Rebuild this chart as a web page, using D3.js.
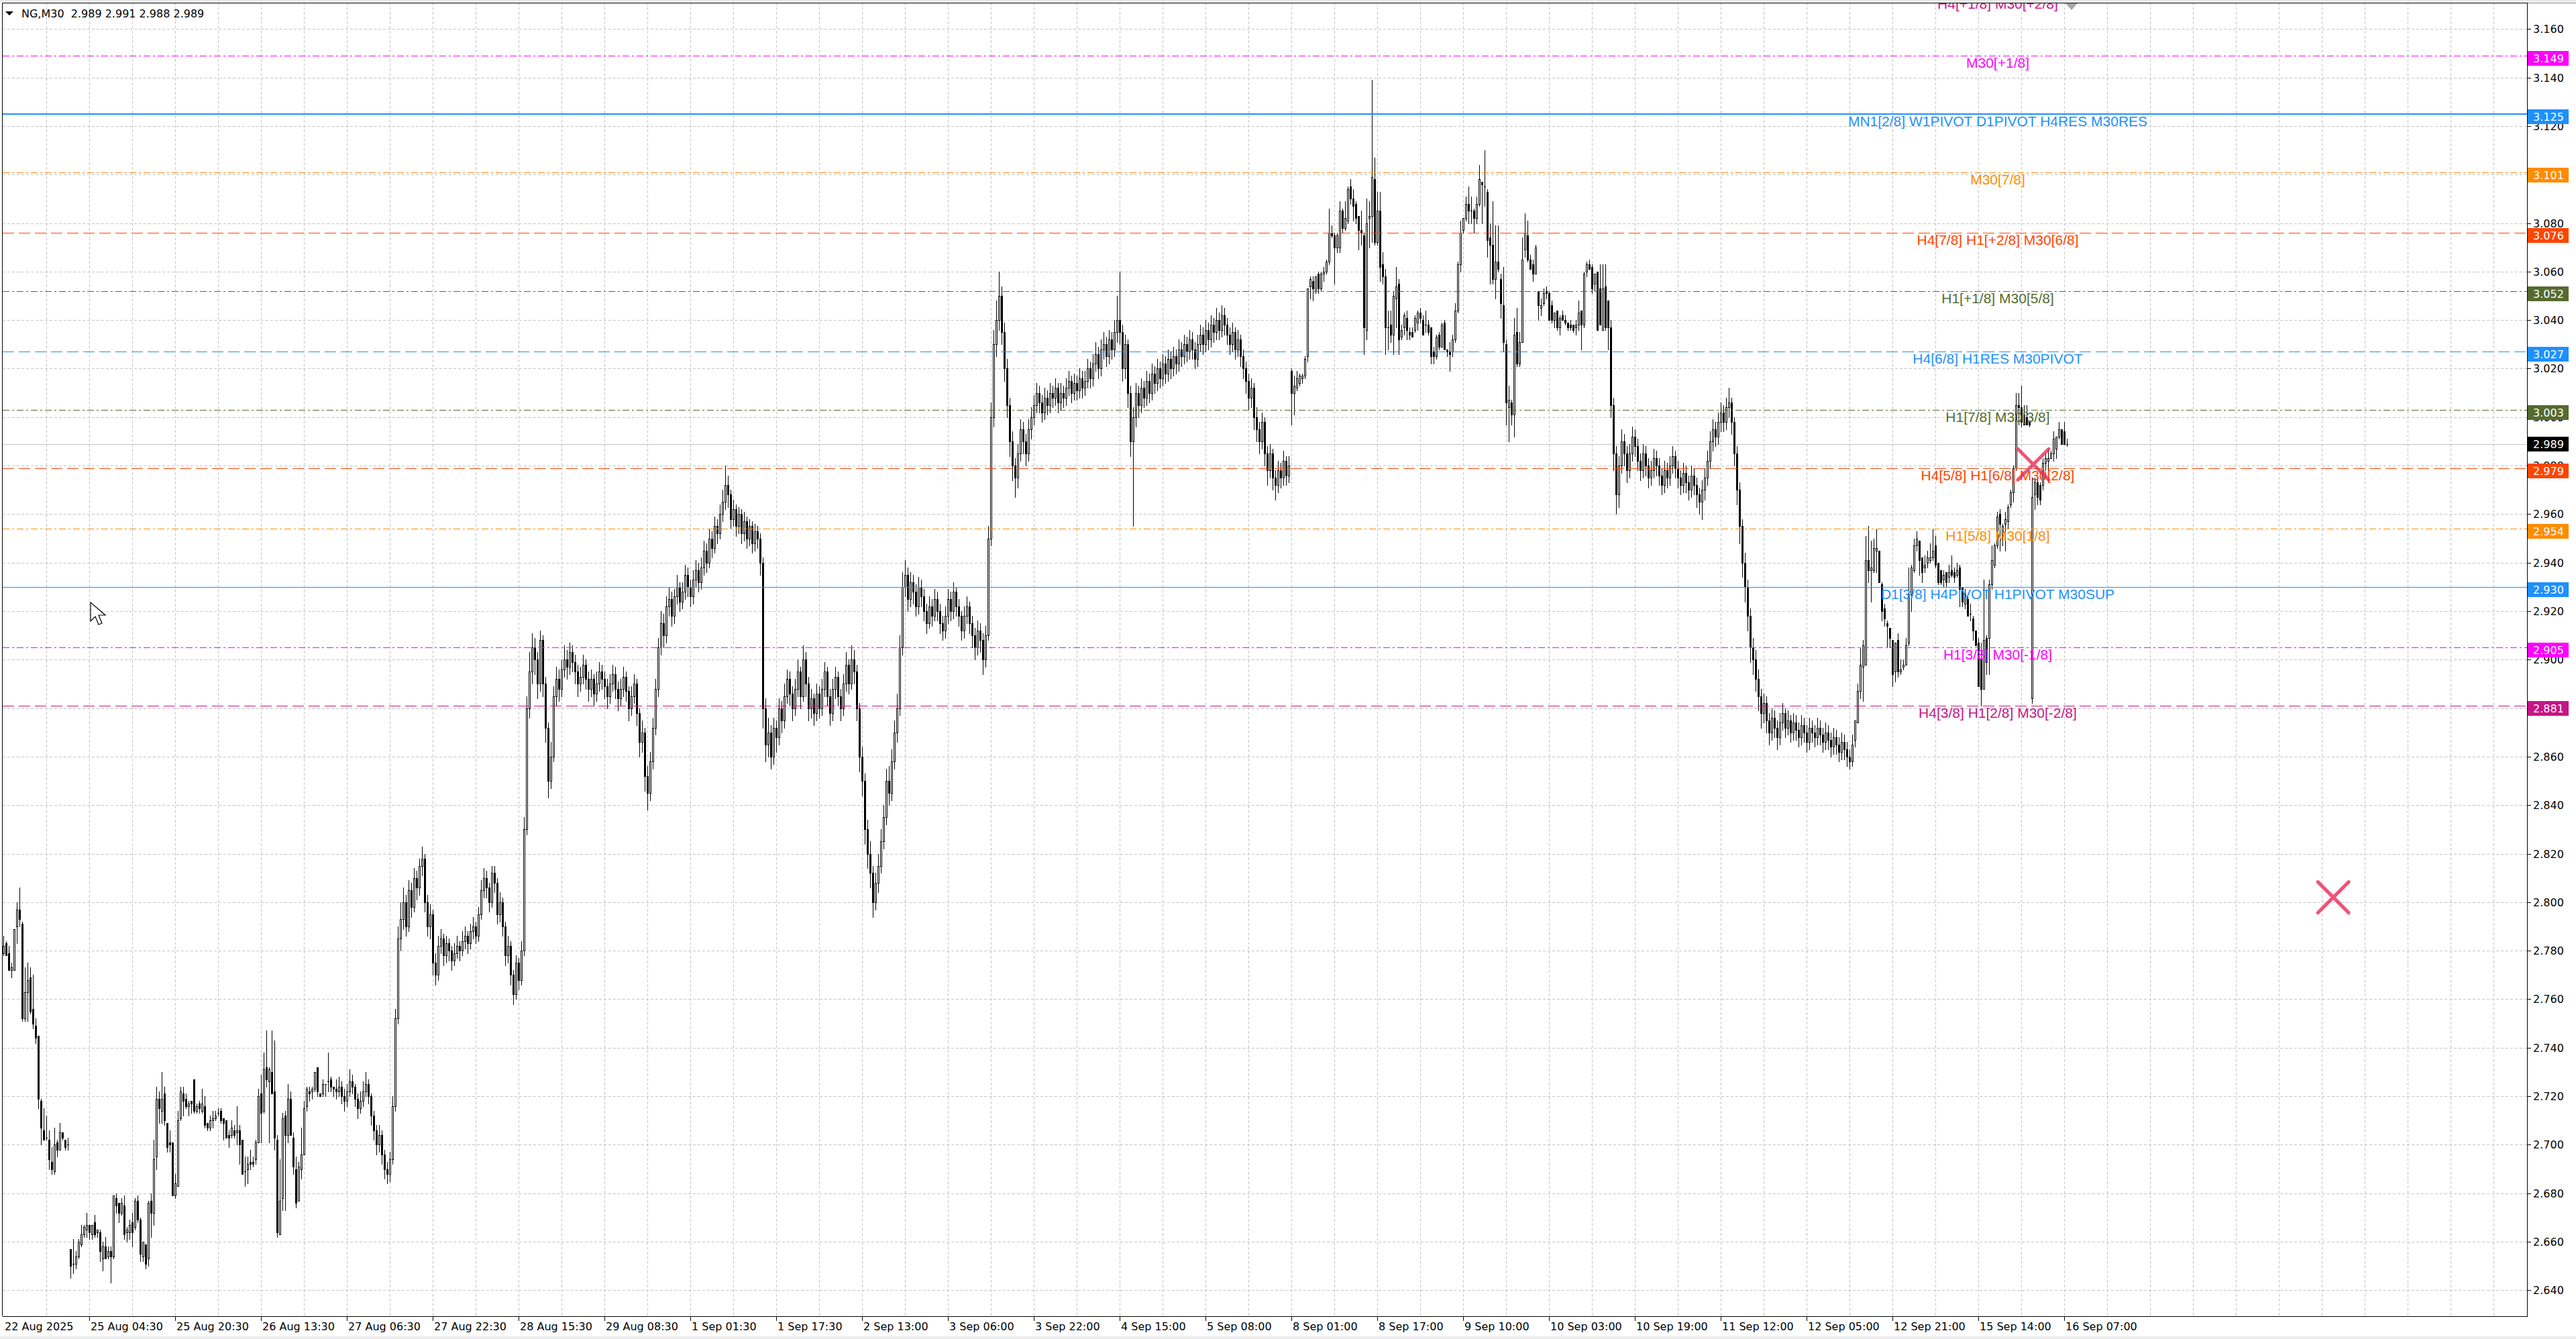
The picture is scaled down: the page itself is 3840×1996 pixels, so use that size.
<!DOCTYPE html>
<html><head><meta charset="utf-8">
<script src="https://cdn.jsdelivr.net/npm/d3@7"></script>
<style>html,body{margin:0;padding:0;background:#fff;overflow:hidden}</style>
</head><body>
<svg id="c" width="3840" height="1996"></svg>
<script>
// ---------------- DATA ----------------
const chartTitle = "NG,M30  2.989 2.991 2.988 2.989";
const timeLabels = ["22 Aug 2025","25 Aug 04:30","25 Aug 20:30","26 Aug 13:30","27 Aug 06:30","27 Aug 22:30","28 Aug 15:30","29 Aug 08:30","1 Sep 01:30","1 Sep 17:30","2 Sep 13:00","3 Sep 06:00","3 Sep 22:00","4 Sep 15:00","5 Sep 08:00","8 Sep 01:00","8 Sep 17:00","9 Sep 10:00","10 Sep 03:00","10 Sep 19:00","11 Sep 12:00","12 Sep 05:00","12 Sep 21:00","15 Sep 14:00","16 Sep 07:00"];
const timeLabelBars = [0,32,64,96,128,160,192,224,256,288,320,352,384,416,448,480,512,544,576,608,640,672,704,736,768];
const priceTicks = [2.64,2.66,2.68,2.70,2.72,2.74,2.76,2.78,2.80,2.82,2.84,2.86,2.88,2.90,2.92,2.94,2.96,2.98,3.00,3.02,3.04,3.06,3.08,3.10,3.12,3.14,3.16];
const levelPrices = [3.1735,3.149,3.125,3.101,3.076,3.052,3.027,3.003,2.979,2.954,2.930,2.905,2.881];
const levelNames = ["H4[+1/8] M30[+2/8]","M30[+1/8]","MN1[2/8] W1PIVOT D1PIVOT H4RES M30RES","M30[7/8]","H4[7/8] H1[+2/8] M30[6/8]","H1[+1/8] M30[5/8]","H4[6/8] H1RES M30PIVOT","H1[7/8] M30[3/8]","H4[5/8] H1[6/8] M30[2/8]","H1[5/8] M30[1/8]","D1[3/8] H4PIVOT H1PIVOT M30SUP","H1[3/8] M30[-1/8]","H4[3/8] H1[2/8] M30[-2/8]"];
const currentPrice = 2.989;
const markerPoints = [[756.5, 2.9805],[868.3, 2.802]]; // [bar, price]

// candles, price x1000, rows [open, high, low, close]
// bars 0-123 (22-26 Aug)
const seg1 = [[2779,2786,2778,2782],[2783,2784,2778,2778],[2779,2782,2772,2772],[2772,2775,2769,2773],[2772,2789,2772,2789],[2790,2800,2783,2797],[2797,2806,2790,2793],[2791,2792,2751,2752],[2752,2773,2751,2763],[2763,2775,2751,2768],
[2769,2773,2754,2755],[2756,2770,2748,2750],[2749,2752,2742,2744],[2745,2745,2715,2719],[2718,2719,2700,2707],[2706,2715,2702,2702],[2703,2712,2702,2703],[2702,2706,2690,2694],[2693,2699,2688,2690],[2689,2707,2688,2700],
[2701,2702,2695,2698],[2698,2709,2698,2705],[2705,2705,2702,2703],[2702,2702,2698,2699],[2700,2703,2698,2700],[2657,2657,2645,2650],[2651,2661,2647,2651],[2651,2656,2649,2654],[2654,2661,2653,2660],[2659,2667,2658,2663],
[2663,2667,2662,2666],[2665,2672,2662,2667],[2667,2667,2661,2664],[2663,2667,2661,2667],[2668,2671,2662,2663],[2664,2665,2662,2665],[2664,2665,2652,2656],[2653,2660,2648,2658],[2658,2662,2653,2653],[2654,2658,2653,2656],
[2656,2658,2643,2654],[2654,2679,2653,2679],[2678,2680,2672,2675],[2676,2676,2668,2672],[2672,2678,2671,2676],[2675,2679,2661,2663],[2664,2666,2660,2665],[2664,2669,2661,2667],[2668,2672,2658,2664],[2666,2678,2665,2677],
[2677,2679,2668,2669],[2669,2670,2652,2655],[2654,2660,2652,2660],[2659,2659,2649,2651],[2653,2677,2650,2676],[2677,2680,2662,2672],[2672,2702,2667,2694],[2695,2724,2690,2719],[2719,2722,2709,2715],[2714,2730,2709,2719],
[2721,2724,2708,2710],[2709,2709,2697,2699],[2701,2706,2697,2700],[2701,2701,2679,2679],[2679,2688,2678,2684],[2683,2714,2683,2710],[2711,2724,2710,2722],[2721,2724,2712,2718],[2719,2721,2715,2716],[2716,2718,2712,2717],
[2718,2718,2713,2717],[2727,2727,2713,2714],[2714,2717,2713,2716],[2717,2718,2713,2715],[2714,2723,2713,2717],[2716,2720,2707,2708],[2709,2709,2706,2707],[2707,2712,2706,2710],[2710,2714,2707,2711],[2711,2714,2710,2712],
[2713,2715,2712,2713],[2714,2715,2709,2710],[2711,2711,2702,2709],[2710,2710,2703,2703],[2704,2706,2699,2703],[2704,2710,2703,2707],[2706,2708,2703,2704],[2705,2716,2700,2706],[2706,2708,2692,2700],[2702,2702,2688,2688],
[2689,2695,2683,2689],[2690,2695,2684,2692],[2693,2698,2690,2692],[2693,2695,2691,2692],[2694,2702,2692,2701],[2701,2723,2701,2720],[2721,2729,2701,2713],[2714,2738,2713,2731],[2732,2747,2724,2727],[2726,2732,2701,2731],
[2730,2747,2721,2721],[2722,2743,2698,2703],[2702,2704,2662,2664],[2663,2694,2663,2677],[2678,2713,2673,2711],[2712,2714,2673,2704],[2704,2725,2701,2719],[2719,2722,2704,2704],[2703,2705,2688,2691],[2690,2695,2674,2676],
[2677,2693,2677,2691],[2690,2707,2686,2696],[2696,2718,2696,2715],[2716,2724,2714,2723],[2722,2724,2718,2721],[2722,2724,2719,2723],[2723,2730,2722,2730],[2732,2732,2720,2722],[2721,2721,2720,2720],[2721,2727,2720,2725],
[2725,2725,2720,2725],[2726,2738,2722,2726],[2727,2728,2722,2724],[2724,2724,2720,2723]];
// bars 124-479 (26 Aug - 5 Sep)
const seg2 = [[2723,2727,2719,2722],[2722,2728,2720,2724],[2724,2726,2717,2720],[2720,2723,2714,2718],[2718,2725,2716,2722],[2722,2731,2720,2726],[2726,2729,2721,2724],[2724,2725,2716,2719],[2719,2721,2711,2715],[2715,2722,2713,2718],
[2718,2726,2716,2722],[2722,2730,2720,2725],[2725,2727,2717,2720],[2720,2721,2708,2712],[2712,2714,2702,2706],[2706,2708,2696,2700],[2700,2708,2697,2704],[2704,2706,2692,2696],[2696,2698,2686,2690],[2690,2693,2684,2688],
[2688,2697,2685,2694],[2694,2720,2692,2716],[2716,2756,2714,2752],[2752,2790,2750,2785],[2785,2800,2780,2793],[2793,2806,2789,2800],[2800,2803,2786,2790],[2790,2809,2788,2805],[2805,2808,2794,2798],[2798,2814,2796,2810],
[2810,2813,2801,2806],[2806,2818,2803,2815],[2815,2823,2811,2818],[2818,2820,2796,2800],[2800,2803,2786,2790],[2790,2799,2785,2795],[2795,2797,2770,2775],[2775,2779,2766,2770],[2770,2786,2768,2782],[2782,2789,2779,2785],
[2785,2787,2774,2778],[2778,2786,2775,2783],[2783,2785,2776,2780],[2780,2782,2772,2776],[2776,2783,2774,2779],[2779,2786,2777,2782],[2782,2784,2776,2780],[2780,2788,2778,2784],[2784,2790,2781,2786],[2786,2788,2779,2783],
[2783,2791,2781,2788],[2788,2794,2785,2790],[2790,2792,2783,2786],[2786,2798,2784,2795],[2795,2809,2793,2805],[2805,2814,2802,2810],[2810,2813,2802,2806],[2806,2808,2796,2800],[2800,2815,2798,2812],[2812,2815,2804,2808],
[2808,2810,2791,2795],[2795,2804,2792,2800],[2800,2802,2786,2790],[2790,2792,2774,2778],[2778,2786,2775,2782],[2782,2784,2766,2770],[2770,2772,2758,2762],[2762,2778,2760,2775],[2775,2777,2764,2768],[2768,2784,2766,2780],
[2780,2835,2778,2830],[2830,2885,2828,2880],[2880,2903,2876,2895],[2895,2911,2890,2905],[2905,2909,2894,2900],[2900,2903,2884,2890],[2890,2912,2887,2908],[2908,2910,2885,2890],[2890,2893,2866,2872],[2872,2874,2843,2850],
[2850,2866,2847,2860],[2860,2889,2858,2885],[2885,2897,2881,2892],[2892,2896,2883,2888],[2888,2900,2885,2896],[2896,2906,2893,2900],[2900,2904,2892,2897],[2897,2907,2894,2903],[2903,2906,2895,2899],[2899,2902,2890,2895],
[2895,2898,2885,2890],[2890,2897,2887,2893],[2893,2902,2890,2898],[2898,2900,2888,2892],[2892,2895,2883,2888],[2888,2896,2885,2892],[2892,2894,2881,2886],[2886,2895,2883,2890],[2890,2899,2887,2895],[2895,2898,2888,2892],
[2892,2895,2884,2889],[2889,2892,2880,2885],[2885,2894,2882,2890],[2890,2898,2887,2894],[2894,2897,2884,2888],[2888,2891,2879,2884],[2884,2892,2881,2888],[2888,2897,2885,2893],[2893,2895,2883,2887],[2887,2889,2875,2880],
[2880,2889,2877,2885],[2885,2894,2882,2890],[2890,2892,2873,2878],[2878,2880,2860,2866],[2866,2875,2862,2870],[2870,2872,2846,2852],[2852,2856,2838,2845],[2845,2862,2842,2858],[2858,2876,2855,2872],[2872,2892,2869,2888],
[2888,2909,2885,2905],[2905,2920,2902,2915],[2915,2919,2905,2910],[2910,2926,2907,2922],[2922,2930,2918,2925],[2925,2928,2914,2918],[2918,2929,2915,2926],[2926,2935,2923,2930],[2930,2932,2920,2924],[2924,2932,2921,2928],
[2928,2939,2925,2935],[2935,2938,2926,2930],[2930,2933,2922,2926],[2926,2937,2923,2933],[2933,2941,2930,2937],[2937,2940,2928,2932],[2932,2942,2929,2938],[2938,2949,2935,2945],[2945,2948,2936,2940],[2940,2954,2938,2950],
[2950,2953,2942,2946],[2946,2959,2944,2955],[2955,2958,2948,2952],[2952,2964,2950,2960],[2960,2970,2957,2965],[2965,2980,2962,2972],[2972,2976,2963,2968],[2968,2970,2954,2958],[2958,2966,2955,2962],[2962,2964,2951,2955],
[2955,2963,2952,2960],[2960,2962,2948,2952],[2952,2961,2949,2957],[2957,2959,2946,2950],[2950,2958,2947,2955],[2955,2957,2944,2948],[2948,2956,2945,2953],[2953,2955,2946,2950],[2950,2952,2935,2940],[2940,2942,2872,2880],
[2880,2884,2858,2865],[2865,2876,2860,2870],[2870,2873,2855,2860],[2860,2876,2857,2872],[2872,2875,2862,2868],[2868,2884,2865,2880],[2880,2883,2870,2875],[2875,2890,2872,2885],[2885,2896,2882,2892],[2892,2895,2881,2886],
[2886,2889,2875,2880],[2880,2892,2877,2888],[2888,2900,2885,2895],[2895,2897,2880,2885],[2885,2906,2883,2900],[2900,2903,2885,2890],[2890,2893,2875,2880],[2880,2888,2876,2884],[2884,2886,2873,2878],[2878,2890,2875,2886],
[2886,2889,2876,2880],[2880,2892,2877,2888],[2888,2899,2885,2895],[2895,2897,2881,2885],[2885,2888,2873,2878],[2878,2892,2875,2888],[2888,2897,2884,2893],[2893,2895,2881,2885],[2885,2888,2875,2880],[2880,2894,2877,2890],
[2890,2903,2887,2898],[2898,2900,2886,2890],[2890,2906,2888,2900],[2900,2904,2890,2895],[2895,2898,2875,2880],[2880,2882,2854,2860],[2860,2864,2844,2850],[2850,2853,2824,2830],[2830,2834,2814,2820],[2820,2825,2806,2812],
[2812,2815,2794,2800],[2800,2812,2797,2808],[2808,2820,2804,2815],[2815,2830,2812,2825],[2825,2840,2822,2835],[2835,2855,2832,2850],[2850,2856,2840,2845],[2845,2863,2842,2858],[2858,2875,2855,2870],[2870,2886,2866,2880],
[2880,2910,2877,2905],[2905,2936,2902,2930],[2930,2941,2926,2935],[2935,2938,2920,2925],[2925,2936,2922,2932],[2932,2935,2923,2928],[2928,2931,2918,2922],[2922,2934,2919,2930],[2930,2933,2922,2926],[2926,2929,2916,2920],
[2920,2923,2911,2915],[2915,2926,2913,2922],[2922,2925,2914,2918],[2918,2929,2916,2925],[2925,2928,2916,2920],[2920,2923,2911,2915],[2915,2918,2908,2912],[2912,2922,2909,2918],[2918,2929,2915,2925],[2925,2928,2916,2920],
[2920,2932,2917,2928],[2928,2930,2918,2922],[2922,2925,2914,2918],[2918,2920,2908,2912],[2912,2922,2909,2918],[2918,2926,2915,2922],[2922,2924,2911,2915],[2915,2918,2905,2910],[2910,2913,2900,2905],[2905,2916,2902,2912],
[2912,2915,2903,2908],[2908,2911,2894,2900],[2900,2914,2897,2910],[2910,2955,2908,2950],[2950,3006,2947,3000],[3000,3036,2996,3030],[3030,3048,3025,3040],[3040,3060,3036,3050],[3050,3054,3030,3035],[3035,3039,3015,3020],
[3020,3024,3000,3005],[3005,3008,2984,2990],[2990,2994,2974,2980],[2980,2983,2967,2975],[2975,2989,2971,2985],[2985,2999,2982,2995],[2995,2998,2985,2990],[2990,2993,2980,2985],[2985,2999,2982,2995],[2995,3004,2991,3000],
[3000,3009,2997,3005],[3005,3014,3002,3010],[3010,3013,3002,3006],[3006,3009,2998,3002],[3002,3012,2999,3008],[3008,3011,3001,3005],[3005,3014,3002,3010],[3010,3013,3004,3008],[3008,3016,3005,3012],[3012,3014,3002,3006],
[3006,3014,3003,3010],[3010,3013,3004,3008],[3008,3016,3005,3012],[3012,3019,3009,3015],[3015,3017,3006,3010],[3010,3018,3007,3014],[3014,3017,3007,3011],[3011,3020,3008,3016],[3016,3019,3008,3012],[3012,3019,3009,3015],
[3015,3024,3012,3020],[3020,3023,3012,3016],[3016,3026,3013,3022],[3022,3031,3019,3026],[3026,3029,3016,3020],[3020,3032,3017,3028],[3028,3035,3024,3030],[3030,3033,3021,3025],[3025,3036,3022,3032],[3032,3035,3024,3028],
[3028,3040,3025,3035],[3035,3050,3031,3040],[3040,3060,3030,3035],[3035,3038,3015,3020],[3020,3034,3016,3030],[3030,3032,3004,3010],[3010,3013,2984,2990],[2990,3004,2955,3000],[3000,3014,2996,3010],[3010,3013,3000,3005],
[3005,3016,3002,3012],[3012,3015,3004,3008],[3008,3019,3005,3015],[3015,3018,3006,3010],[3010,3022,3007,3018],[3018,3021,3010,3014],[3014,3024,3011,3020],[3020,3023,3012,3016],[3016,3026,3013,3022],[3022,3025,3014,3018],
[3018,3028,3015,3024],[3024,3027,3016,3020],[3020,3029,3017,3025],[3025,3028,3018,3022],[3022,3032,3019,3028],[3028,3031,3021,3025],[3025,3034,3022,3030],[3030,3033,3023,3027],[3027,3036,3024,3032],[3032,3035,3024,3028],
[3028,3031,3020,3024],[3024,3034,3021,3030],[3030,3038,3027,3034],[3034,3037,3026,3030],[3030,3040,3027,3036],[3036,3039,3028,3032],[3032,3042,3029,3038],[3038,3041,3031,3035],[3035,3045,3032,3040],[3040,3043,3032,3036],
[3036,3046,3033,3042],[3042,3045,3034,3038],[3038,3041,3030,3034],[3034,3037,3026,3030],[3030,3039,3027,3035],[3035,3037,3024,3028],[3028,3036,3025,3032],[3032,3034,3021,3025],[3025,3028,3016,3020],[3020,3023,3010,3015],
[3015,3018,3003,3008],[3008,3016,3004,3012],[3012,3014,2995,3000],[3000,3004,2990,2995],[2995,2998,2985,2990],[2990,3002,2987,2998],[2998,3000,2980,2985],[2985,2988,2972,2978],[2978,2989,2975,2985],[2985,2987,2970,2975],
[2975,2978,2966,2972],[2972,2982,2969,2978],[2978,2981,2971,2975],[2975,2986,2972,2982],[2982,2984,2972,2976],[2976,2984,2973,2980]];
// bars 480-598 (8-10 Sep)
const seg3 = [[3019,3020,2997,3010],[3010,3017,3001,3013],[3012,3019,3011,3016],[3014,3018,3013,3017],[3016,3018,3014,3017],[3017,3025,3016,3024],[3025,3053,3023,3053],[3054,3058,3049,3057],[3056,3058,3048,3053],[3052,3058,3051,3058],
[3059,3060,3051,3053],[3053,3060,3052,3059],[3059,3062,3056,3060],[3060,3065,3059,3064],[3064,3086,3063,3076],[3076,3079,3074,3075],[3075,3076,3055,3070],[3070,3076,3068,3075],[3070,3089,3068,3085],[3085,3086,3076,3078],
[3078,3089,3077,3082],[3081,3095,3080,3094],[3095,3098,3088,3090],[3090,3094,3081,3087],[3088,3089,3080,3082],[3083,3083,3069,3077],[3077,3085,3071,3076],[3075,3076,3026,3037],[3036,3090,3032,3080],[3082,3089,3070,3083],
[3083,3139,3072,3099],[3098,3107,3071,3072],[3072,3093,3071,3085],[3085,3093,3056,3062],[3063,3068,3055,3058],[3058,3061,3026,3037],[3037,3044,3028,3037],[3038,3044,3031,3034],[3034,3052,3026,3050],[3049,3062,3037,3054],
[3055,3057,3026,3032],[3033,3038,3032,3036],[3037,3043,3034,3042],[3041,3044,3032,3036],[3035,3037,3032,3034],[3035,3037,3033,3033],[3036,3042,3035,3041],[3039,3044,3036,3043],[3043,3045,3039,3041],[3040,3042,3034,3034],
[3038,3044,3035,3038],[3038,3040,3034,3035],[3037,3037,3022,3025],[3027,3029,3022,3025],[3025,3034,3024,3033],[3034,3035,3028,3029],[3029,3039,3029,3038],[3039,3040,3028,3028],[3028,3028,3025,3027],[3027,3031,3019,3026],
[3027,3034,3025,3032],[3032,3047,3031,3044],[3044,3064,3043,3063],[3063,3081,3060,3076],[3077,3082,3076,3082],[3082,3091,3081,3088],[3088,3095,3080,3085],[3085,3091,3080,3085],[3085,3086,3076,3082],[3082,3091,3080,3088],
[3088,3104,3087,3098],[3097,3097,3080,3096],[3095,3110,3087,3095],[3093,3094,3066,3073],[3074,3080,3055,3071],[3071,3089,3055,3057],[3057,3079,3049,3064],[3064,3079,3060,3061],[3057,3059,3041,3047],[3046,3062,3027,3031],
[3030,3032,2997,3006],[3004,3013,2990,3007],[3006,3007,2997,3001],[3001,3041,2992,3034],[3035,3045,3021,3022],[3022,3035,3021,3031],[3031,3074,3031,3065],[3069,3084,3066,3076],[3075,3081,3064,3065],[3065,3067,3061,3061],
[3063,3065,3056,3059],[3059,3071,3059,3070],[3052,3052,3040,3046],[3045,3049,3042,3046],[3047,3053,3046,3051],[3052,3054,3049,3051],[3051,3052,3040,3040],[3046,3048,3039,3040],[3040,3043,3037,3043],[3044,3044,3036,3037],
[3037,3042,3034,3041],[3042,3044,3040,3040],[3040,3042,3038,3039],[3039,3039,3036,3037],[3038,3040,3036,3037],[3038,3038,3035,3036],[3037,3040,3034,3038],[3038,3048,3036,3043],[3044,3044,3028,3038],[3038,3060,3037,3059],
[3060,3064,3058,3063],[3063,3065,3062,3061],[3062,3063,3051,3053],[3055,3059,3052,3059],[3060,3060,3036,3036],[3053,3063,3038,3038],[3036,3063,3036,3053],[3054,3063,3036,3037],[3048,3048,3028,3037]];
// bars 599-689 (10-12 Sep)
const seg4 = [[3037,3040,3000,3005],[3005,3008,2978,2985],[2985,2988,2960,2968],[2968,2984,2963,2980],[2980,2995,2977,2990],[2990,2993,2980,2985],[2985,2988,2973,2978],[2978,2989,2975,2985],[2985,2996,2982,2992],[2992,2995,2984,2988],
[2988,2991,2978,2982],[2982,2985,2974,2978],[2978,2989,2975,2985],[2985,2988,2976,2980],[2980,2983,2971,2975],[2975,2982,2972,2978],[2978,2987,2975,2983],[2983,2986,2976,2980],[2980,2983,2972,2976],[2976,2979,2968,2972],
[2972,2982,2969,2978],[2978,2981,2971,2975],[2975,2984,2972,2980],[2980,2988,2977,2984],[2984,2986,2975,2979],[2979,2982,2971,2975],[2975,2978,2968,2972],[2972,2981,2969,2977],[2977,2980,2969,2973],[2973,2976,2966,2970],
[2970,2980,2967,2976],[2976,2979,2968,2972],[2972,2975,2963,2968],[2968,2971,2960,2965],[2965,2974,2958,2970],[2970,2979,2966,2975],[2975,2986,2972,2982],[2982,2994,2979,2990],[2990,2999,2986,2995],[2995,2998,2988,2992],
[2992,3002,2989,2998],[2998,3006,2994,3002],[3002,3005,2994,2998],[2998,3008,2995,3004],[3004,3012,3000,3006],[3006,3008,2993,2998],[2998,3000,2980,2985],[2985,2988,2964,2970],[2970,2973,2948,2955],[2955,2958,2934,2940],
[2940,2944,2924,2930],[2930,2933,2912,2918],[2918,2921,2899,2905],[2905,2909,2894,2900],[2900,2904,2887,2892],[2892,2896,2879,2885],[2885,2888,2872,2878],[2878,2886,2874,2882],[2882,2885,2870,2875],[2875,2878,2865,2870],
[2870,2880,2867,2876],[2876,2879,2868,2872],[2872,2875,2863,2868],[2868,2878,2865,2874],[2874,2882,2871,2878],[2878,2880,2868,2872],[2872,2879,2869,2875],[2875,2877,2866,2870],[2870,2878,2867,2874],[2874,2877,2867,2871],
[2871,2874,2864,2868],[2868,2877,2865,2873],[2873,2876,2866,2870],[2870,2873,2862,2866],[2866,2876,2863,2872],[2872,2875,2866,2870],[2870,2873,2864,2868],[2868,2876,2865,2872],[2872,2875,2865,2869],[2869,2872,2862,2866],
[2866,2874,2863,2870],[2870,2873,2863,2867],[2867,2870,2860,2864],[2864,2872,2861,2868],[2868,2871,2861,2865],[2865,2868,2858,2862],[2862,2870,2859,2866],[2866,2869,2859,2863],[2863,2866,2856,2860],[2860,2863,2855,2858],
[2858,2869,2856,2865]];
// bars 690-769 (12-16 Sep)
const seg5 = [[2867,2875,2864,2875],[2874,2890,2874,2887],[2887,2905,2884,2898],[2897,2908,2883,2906],[2898,2951,2898,2941],[2941,2955,2932,2937],[2937,2949,2924,2938],[2937,2950,2936,2946],[2945,2954,2936,2946],[2945,2945,2932,2932],
[2931,2932,2916,2920],[2921,2923,2914,2917],[2915,2916,2905,2914],[2913,2913,2905,2909],[2908,2908,2889,2894],[2895,2907,2891,2907],[2908,2911,2893,2895],[2895,2900,2894,2896],[2897,2900,2896,2898],[2898,2909,2898,2906],
[2907,2938,2906,2927],[2927,2939,2920,2938],[2937,2950,2936,2947],[2947,2953,2945,2950],[2949,2949,2935,2941],[2942,2942,2932,2936],[2938,2943,2936,2939],[2940,2945,2938,2942],[2941,2948,2940,2942],[2942,2954,2941,2945],
[2947,2951,2938,2939],[2940,2940,2931,2932],[2937,2937,2931,2932],[2933,2937,2930,2935],[2936,2936,2930,2932],[2934,2939,2932,2936],[2937,2943,2934,2935],[2936,2938,2932,2934],[2935,2940,2934,2937],[2938,2939,2922,2929],
[2930,2930,2922,2924],[2923,2929,2921,2927],[2925,2926,2918,2918],[2919,2923,2916,2919],[2917,2918,2908,2912],[2912,2912,2906,2906],[2907,2909,2889,2889],[2900,2907,2881,2888],[2888,2933,2888,2908],[2909,2910,2894,2899],
[2909,2933,2894,2931],[2931,2947,2929,2941],[2939,2948,2938,2947],[2947,2961,2946,2959],[2960,2962,2945,2956],[2951,2956,2947,2955],[2956,2961,2945,2958],[2957,2964,2954,2963],[2964,2970,2963,2969],[2969,2980,2965,2979],
[2979,3010,2978,3005],[3005,3010,2997,3004],[3004,3013,2996,2998],[3001,3005,2997,2997],[3000,3005,2997,2997],[2998,2998,2996,2997],[2884,2975,2882,2967],[2968,2975,2962,2973],[2973,2975,2964,2967],[2972,2973,2964,2966],
[2972,2983,2970,2981],[2981,2985,2978,2983],[2982,2987,2978,2983],[2983,2986,2983,2985],[2985,2994,2982,2991],[2987,2992,2983,2992],[2992,2998,2991,2995],[2995,2995,2989,2989],[2994,2998,2989,2989],[2989,2991,2988,2989]];

// ---------------- BUILD ----------------
const opens=[],highs=[],lows=[],closes=[];
[seg1,seg2,seg3,seg4,seg5].forEach(rows=>rows.forEach(r=>{opens.push(r[0]);highs.push(r[1]);lows.push(r[2]);closes.push(r[3]);}));
if(closes.length!==770) throw new Error("bar count "+closes.length);

// ---------------- LAYOUT ----------------
const W=3840,H=1996;
const plotL=4, plotR=3767, plotT=4, plotB=1962;
const x=d3.scaleLinear().domain([0,769]).range([5,3081]);
const y=d3.scaleLinear().domain([2.64,3.16]).range([1923.3,43.3]);
const svg=d3.select("#c");
const font="'DejaVu Sans', Verdana, sans-serif";
const levelStyle = [
 {c:"#C71585",d:"17,7",w:1},{c:"#FF00FF",d:"10,4,3,4",w:1},{c:"#1E90FF",d:null,w:2},{c:"#FF8C00",d:"10,4,3,4",w:1},
 {c:"#FF4500",d:"17,7",w:1},{c:"#556B2F",d:"10,4,3,4",w:1},{c:"#1E90FF",d:"17,7",w:1},{c:"#556B2F",d:"10,4,3,4",w:1},
 {c:"#FF4500",d:"17,7",w:1},{c:"#FF8C00",d:"10,4,3,4",w:1},{c:"#1E90FF",d:null,w:1},{c:"#FF00FF",d:"10,4,3,4",w:1},{c:"#C71585",d:"17,7",w:1}];

svg.append("rect").attr("width",W).attr("height",H).attr("fill","#fff");
svg.append("rect").attr("x",0).attr("y",0).attr("width",W).attr("height",3).attr("fill","#e8e8e8");
svg.append("rect").attr("x",0).attr("y",1992).attr("width",W).attr("height",4).attr("fill","#ececec");
svg.append("defs").append("clipPath").attr("id","pc").append("rect").attr("x",plotL).attr("y",plotT).attr("width",plotR-plotL).attr("height",plotB-plotT);
const plot=svg.append("g").attr("clip-path","url(#pc)");

// grid
const vgrid=d3.range(16,930,16).map(b=>Math.round(x(b))+0.5).filter(v=>v<plotR);
plot.append("g").selectAll("line").data(vgrid).join("line").attr("x1",d=>d).attr("x2",d=>d).attr("y1",plotT).attr("y2",plotB)
 .attr("stroke","#c4c4c4").attr("stroke-dasharray","4,3");
plot.append("g").selectAll("line").data(priceTicks).join("line").attr("x1",plotL).attr("x2",plotR)
 .attr("y1",d=>Math.round(y(d))+0.5).attr("y2",d=>Math.round(y(d))+0.5).attr("stroke","#c4c4c4").attr("stroke-dasharray","4,3");

// bid line
plot.append("line").attr("x1",plotL).attr("x2",plotR).attr("y1",Math.round(y(currentPrice))+0.5).attr("y2",Math.round(y(currentPrice))+0.5).attr("stroke","#c0c0c0");

// candles
const bars=d3.range(closes.length).map(i=>({i,o:opens[i]/1000,h:highs[i]/1000,l:lows[i]/1000,c:closes[i]/1000}));
const cg=plot.append("g");
cg.selectAll("line.w").data(bars).join("line").attr("class","w")
 .attr("x1",d=>Math.round(x(d.i))+0.5).attr("x2",d=>Math.round(x(d.i))+0.5)
 .attr("y1",d=>Math.round(y(d.h))).attr("y2",d=>Math.round(y(d.l))+1).attr("stroke","#000");
cg.selectAll("rect.b").data(bars.filter(d=>d.o!==d.c)).join("rect").attr("class","b")
 .attr("x",d=>Math.round(x(d.i))-0.5)
 .attr("y",d=>Math.round(y(Math.max(d.o,d.c)))+0.5)
 .attr("width",2)
 .attr("height",d=>Math.max(1,Math.round(y(Math.min(d.o,d.c)))-Math.round(y(Math.max(d.o,d.c)))))
 .attr("fill",d=>d.c>d.o?"#fff":"#000").attr("stroke","#000");
cg.selectAll("line.d").data(bars.filter(d=>d.o===d.c)).join("line").attr("class","d")
 .attr("x1",d=>Math.round(x(d.i))-1).attr("x2",d=>Math.round(x(d.i))+2)
 .attr("y1",d=>Math.round(y(d.c))+0.5).attr("y2",d=>Math.round(y(d.c))+0.5).attr("stroke","#000");

// levels
const lg=plot.append("g");
levelPrices.forEach((p,k)=>{
  const yy=Math.round(y(p))+(levelStyle[k].w===2?0:0.5);
  const ln=lg.append("line").attr("x1",plotL).attr("x2",plotR).attr("y1",yy).attr("y2",yy)
    .attr("stroke",levelStyle[k].c).attr("stroke-width",levelStyle[k].w);
  if(levelStyle[k].d) ln.attr("stroke-dasharray",levelStyle[k].d);
});
levelPrices.forEach((p,k)=>{
  lg.append("text").attr("x",2978).attr("y",y(p)+18).attr("text-anchor","middle")
   .attr("font-family","'Liberation Sans', Arial, sans-serif").attr("font-size",21)
   .attr("fill",levelStyle[k].c).text(levelNames[k]);
});

// markers
const mg=plot.append("g");
markerPoints.forEach(([b,p])=>{
  const cx=x(b), cy=y(p), r=23;
  mg.append("path").attr("d",`M${cx-r},${cy-r}L${cx+r},${cy+r}M${cx+r},${cy-r}L${cx-r},${cy+r}`)
   .attr("stroke","rgba(235,40,85,0.8)").attr("stroke-width",5).attr("stroke-linecap","round").attr("fill","none");
});

// chart shift marker
svg.append("path").attr("d","M3078,4L3098,4L3088,15Z").attr("fill","#a8a8a8");

// frame / axes
svg.append("line").attr("x1",plotL).attr("x2",plotR).attr("y1",plotT+0.5).attr("y2",plotT+0.5).attr("stroke","#000");
svg.append("line").attr("x1",plotR).attr("x2",W).attr("y1",plotT+0.5).attr("y2",plotT+0.5).attr("stroke","#888");
svg.append("line").attr("x1",plotL-0.5).attr("x2",plotL-0.5).attr("y1",plotT).attr("y2",plotB).attr("stroke","#000");
svg.append("line").attr("x1",plotR+0.5).attr("x2",plotR+0.5).attr("y1",plotT).attr("y2",plotB+1).attr("stroke","#000");
svg.append("line").attr("x1",plotL).attr("x2",plotR+1).attr("y1",plotB+0.5).attr("y2",plotB+0.5).attr("stroke","#000");

// y axis labels
const ya=svg.append("g");
ya.selectAll("line").data(priceTicks).join("line").attr("x1",plotR+1).attr("x2",plotR+6)
 .attr("y1",d=>Math.round(y(d))+0.5).attr("y2",d=>Math.round(y(d))+0.5).attr("stroke","#000");
ya.selectAll("text").data(priceTicks).join("text").attr("x",3776).attr("y",d=>y(d)+6)
 .attr("font-family",font).attr("font-size",16).attr("fill","#000").text(d=>d3.format(".3f")(d));

// x axis labels
const xa=svg.append("g");
xa.selectAll("line").data(timeLabelBars.slice(1)).join("line").attr("x1",d=>Math.round(x(d))+0.5).attr("x2",d=>Math.round(x(d))+0.5)
 .attr("y1",plotB).attr("y2",plotB+7).attr("stroke","#000");
xa.selectAll("text").data(timeLabels).join("text").attr("x",(d,k)=>k===0?7:Math.round(x(timeLabelBars[k]))+2).attr("y",1983)
 .attr("font-family",font).attr("font-size",16).attr("fill","#000").text(d=>d);

// price badges: level badges sit slightly below their line, the bid badge is centred
const badges=levelPrices.slice(1).map((p,k)=>({p,c:levelStyle[k+1].c,off:4})).concat([{p:currentPrice,c:"#000",off:0}]);
const bg=svg.append("g");
badges.forEach(b=>{
  const yy=Math.round(y(b.p))+b.off;
  bg.append("rect").attr("x",plotR+1).attr("y",yy-11).attr("width",61).attr("height",22).attr("fill",b.c);
  bg.append("text").attr("x",3776).attr("y",yy+6).attr("font-family",font).attr("font-size",16).attr("fill","#fff").text(d3.format(".3f")(b.p));
});

// title
svg.append("path").attr("d","M8,17L20,17L14,23Z").attr("fill","#000");
svg.append("text").attr("x",32).attr("y",26).attr("font-family",font).attr("font-size",16).attr("fill","#000").attr("xml:space","preserve").style("white-space","pre").text(chartTitle);

// mouse cursor
svg.append("path").attr("d","M135,898L135,926L142,919L147,931L152,929L147,917L157,917Z").attr("fill","#fff").attr("stroke","#000").attr("stroke-width",1.2);
</script>
</body></html>
